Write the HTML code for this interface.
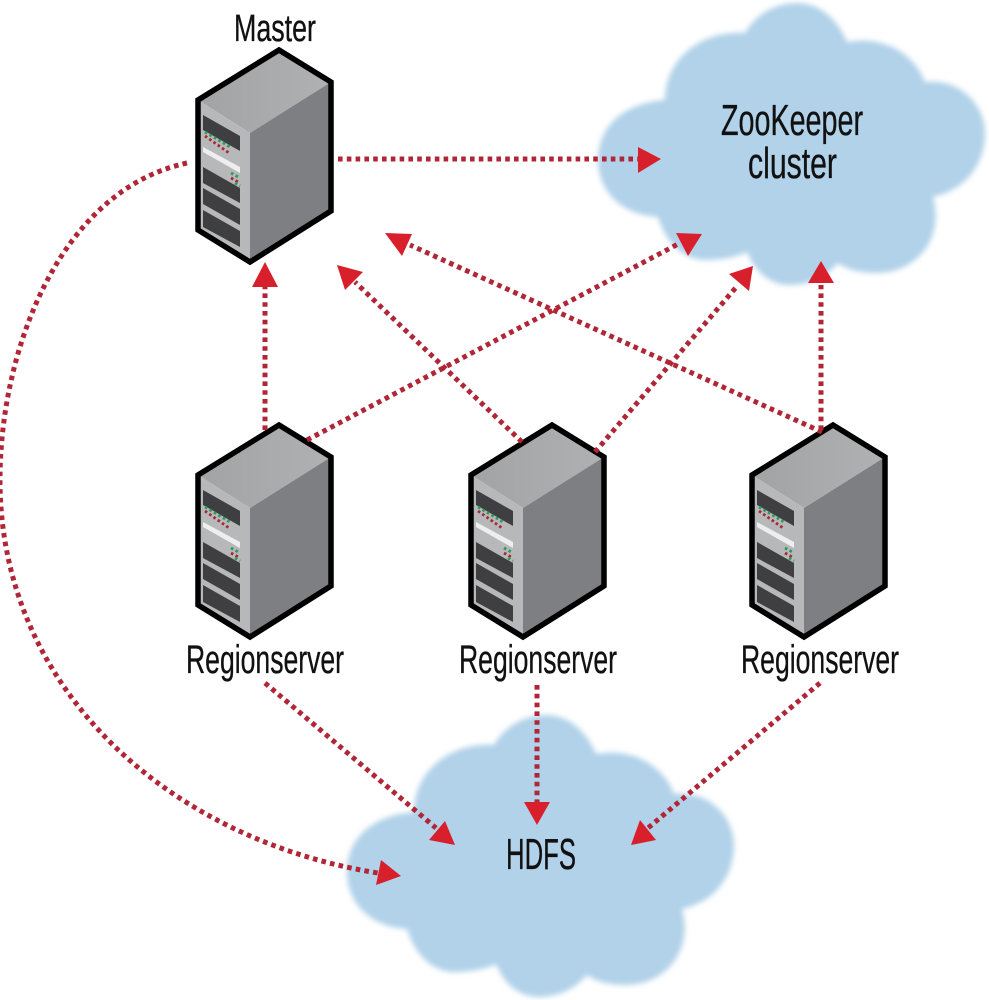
<!DOCTYPE html>
<html><head><meta charset="utf-8"><style>
html,body{margin:0;padding:0;background:#fff}
svg{display:block}
text{font-family:"Liberation Sans",sans-serif;fill:#111;stroke:#111;stroke-width:.35}
.d{fill:none;stroke:#b02637;stroke-width:5;stroke-dasharray:4.6 4.2}
.h{fill:#d8202c}
.p{fill:#3f3f41}
</style></head><body>
<svg width="989" height="1000" viewBox="0 0 989 1000" xmlns="http://www.w3.org/2000/svg">
<defs>
<filter id="b" x="-10%" y="-10%" width="120%" height="120%"><feGaussianBlur stdDeviation="2.6"/></filter>
<linearGradient id="t" x1="0" y1="0" x2="1" y2="0"><stop offset="0" stop-color="#a2a3a4"/><stop offset="1" stop-color="#b0b1b2"/></linearGradient>
<g id="cloud">
<path fill="#b1d2e9" filter="url(#b)" d="M658,217 C620,215 598,190 598,160 C598,125 625,103 665,100 C665,60 700,30 745,33 C755,15 775,3 797,3 C820,3 838,20 847,42 C885,35 915,55 925,82 C960,78 985,105 985,133 C985,165 965,190 933,197 C945,240 915,273 877,273 C860,273 848,270 838,263 C825,278 808,285 790,285 C770,285 755,272 747,252 C735,258 720,260 703,260 C680,258 665,240 658,217 Z"/>
</g>
<g id="srv">
<polygon points="198,100 279,50 331,82 250,133" fill="url(#t)"/>
<polygon points="198,100 250,133 250,262 198,230" fill="#b7b8b9"/>
<polygon points="250,133 331,82 331,211 250,262" fill="#7e7f82"/>
<polygon class="p" points="203,115 240,136 240,151 203,130"/>
<polygon points="203,147 240,167 240,173 203,152" fill="#eeeeee"/>
<polygon class="p" points="203,167 240,188 240,203 203,183"/>
<polygon class="p" points="203,188 240,209 240,225 203,204"/>
<polygon class="p" points="203,210 240,231 240,247 203,227"/>
<g fill="none" stroke-width="2.8" stroke-dasharray="2.6 2.6">
<path d="M205,132 L230,147" stroke="#2f9a5b"/>
<path d="M205,136 L229,153" stroke="#a8283a"/>
<path d="M231,173 L240,178" stroke="#2f9a5b"/>
<path d="M231,178 L240,183" stroke="#a8283a"/>
<path d="M235,183 L240,186" stroke="#2f9a5b"/>
</g>
<polygon points="198,100 279,50 331,82 331,211 250,262 198,230" fill="none" stroke="#000" stroke-width="5.5" stroke-linejoin="miter"/>
</g>
</defs>
<rect width="989" height="1000" fill="#fff"/>
<use href="#cloud"/>
<use href="#cloud" transform="translate(-251 712)"/>
<use href="#srv"/>
<use href="#srv" transform="translate(0 375)"/>
<use href="#srv" transform="translate(273 375)"/>
<use href="#srv" transform="translate(554 375)"/>

<path class="d" d="M338,159 L638,159"/>
<polygon class="h" points="638,147 661,159 638,173"/>
<path class="d" d="M187,163 C60,190 0,350 0,480 C0,690 170,840 378,873"/>
<polygon class="h" points="381,860 376,885 401,876"/>
<path class="d" d="M265,430 L265,287"/>
<polygon class="h" points="265,262 252,287 278,287"/>
<path class="d" d="M522,442 L355,282"/>
<polygon class="h" points="337,265 345,290 363,272"/>
<path class="d" d="M822,432 L410,245"/>
<polygon class="h" points="385,233 402,256 412,234"/>
<path class="d" d="M307,440 L680,243"/>
<polygon class="h" points="676,233 702,234 688,256"/>
<path class="d" d="M595,452 L738,285"/>
<polygon class="h" points="753,266 729,274 749,291"/>
<path class="d" d="M821,430 L821,285"/>
<polygon class="h" points="821,261 808,283 834,283"/>
<path class="d" d="M265,683 L436,828"/>
<polygon class="h" points="445,821 429,840 455,845"/>
<path class="d" d="M537,685 L537,802"/>
<polygon class="h" points="524,802 550,802 537,825"/>
<path class="d" d="M820,683 L648,828"/>
<polygon class="h" points="640,820 631,845 656,840"/>

<text x="234" y="41" font-size="38" textLength="82" lengthAdjust="spacingAndGlyphs">Master</text>
<text x="721" y="135" font-size="44" textLength="142" lengthAdjust="spacingAndGlyphs">ZooKeeper</text>
<text x="748" y="178" font-size="44" textLength="89" lengthAdjust="spacingAndGlyphs">cluster</text>
<text x="186" y="673" font-size="40" textLength="158" lengthAdjust="spacingAndGlyphs">Regionserver</text>
<text x="459" y="673" font-size="40" textLength="158" lengthAdjust="spacingAndGlyphs">Regionserver</text>
<text x="741" y="673" font-size="40" textLength="158" lengthAdjust="spacingAndGlyphs">Regionserver</text>
<text x="506" y="869" font-size="44" textLength="70" lengthAdjust="spacingAndGlyphs">HDFS</text>
</svg>
</body></html>
